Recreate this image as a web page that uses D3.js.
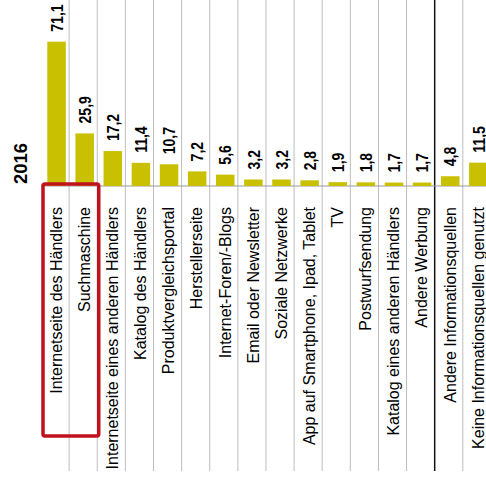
<!doctype html>
<html>
<head>
  <script src="https://d3js.org/d3.v7.min.js"></script>
  <style>
    body { margin:0; background:#fff; }
    text { font-family: Arial, "Liberation Sans", sans-serif; fill:#000; }
  </style>
</head>
<body>
  <script>
    // categories in the order they appear, left to right
    var categories = [
      "Internetseite des Händlers",
      "Suchmaschine",
      "Internetseite eines anderen Händlers",
      "Katalog des Händlers",
      "Produktvergleichsportal",
      "Herstellerseite",
      "Internet-Foren/-Blogs",
      "Email oder Newsletter",
      "Soziale Netzwerke",
      "App auf Smartphone, Ipad, Tablet",
      "TV",
      "Postwurfsendung",
      "Katalog eines anderen Händlers",
      "Andere Werbung",
      "Andere Informationsquellen",
      "Keine Informationsquellen genutzt"
    ];
    var values2016 = [71.1, 25.9, 17.2, 11.4, 10.7, 7.2, 5.6, 3.2, 3.2, 2.8, 1.9, 1.8, 1.7, 1.7, 4.8, 11.5];
    var yearLabel = "2016";

    var width = 486, height = 485;
    var baseY = 186;

    var svg = d3.select("body").append("svg")
      .attr("width", width)
      .attr("height", height);

    // one column per category
    var x = d3.scaleBand()
      .domain(categories)
      .range([41, 41 + 16 * 28.12]);

    var y = d3.scaleLinear()
      .domain([0, 80])
      .range([baseY, baseY - 80 * 2.03]);

    var fmt = function(v){ return d3.format(".1f")(v).replace(".", ","); };

    // vertical grid lines between columns
    svg.selectAll("line.grid")
      .data(categories.slice(1))
      .enter()
      .append("line")
      .attr("class", "grid")
      .attr("x1", function(d){ return x(d); })
      .attr("x2", function(d){ return x(d); })
      .attr("y1", 0)
      .attr("y2", 471)
      .attr("stroke", function(d){ return d == "Andere Informationsquellen" ? "#111" : "#bdbdbd"; })
      .attr("stroke-width", function(d){ return d == "Andere Informationsquellen" ? 1.5 : 1; });

    // baseline
    svg.append("line")
      .attr("x1", 41).attr("x2", width)
      .attr("y1", baseY).attr("y2", baseY)
      .attr("stroke", "#9a9a9a")
      .attr("stroke-width", 1);

    var cols = svg.selectAll("g.col")
      .data(categories)
      .enter()
      .append("g")
      .attr("class", "col");

    var barW = 18.5;

    cols.append("rect")
      .attr("x", function(d){ return x(d) + x.bandwidth() / 2 + 1.5 - barW / 2; })
      .attr("y", function(d, i){ return y(values2016[i]); })
      .attr("width", barW)
      .attr("height", function(d, i){ return baseY - y(values2016[i]); })
      .attr("fill", "#c8c000");

    // value labels above the bars (glyphs a bit stretched, like the source)
    cols.append("text")
      .attr("transform", function(d, i){
        var cx = x(d) + x.bandwidth() / 2 + 1.5;
        return "translate(" + cx + "," + (y(values2016[i]) - 10) + ") rotate(-90) scale(1,1.22)";
      })
      .attr("dy", "0.36em")
      .attr("font-size", 14)
      .attr("font-weight", "bold")
      .text(function(d, i){ return fmt(values2016[i]); });

    // category labels below the baseline
    cols.append("text")
      .attr("transform", function(d){
        var cx = x(d) + x.bandwidth() / 2 + 1;
        return "translate(" + cx + ",207) rotate(-90)";
      })
      .attr("dy", "0.36em")
      .attr("text-anchor", "end")
      .attr("font-size", 16)
      .text(function(d){ return d; });

    // year label
    svg.append("text")
      .attr("transform", "translate(20,184) rotate(-90)")
      .attr("dy", "0.36em")
      .attr("font-size", 18.5)
      .attr("font-weight", "bold")
      .text(yearLabel);

    // red highlight box
    svg.append("rect")
      .attr("x", x(categories[0]) + 2)
      .attr("y", 184)
      .attr("width", x(categories[1]) + x.bandwidth() - x(categories[0]) - 0.5)
      .attr("height", 252)
      .attr("rx", 2)
      .attr("fill", "none")
      .attr("stroke", "#c0121c")
      .attr("stroke-width", 3.5);
  </script>
</body>
</html>
